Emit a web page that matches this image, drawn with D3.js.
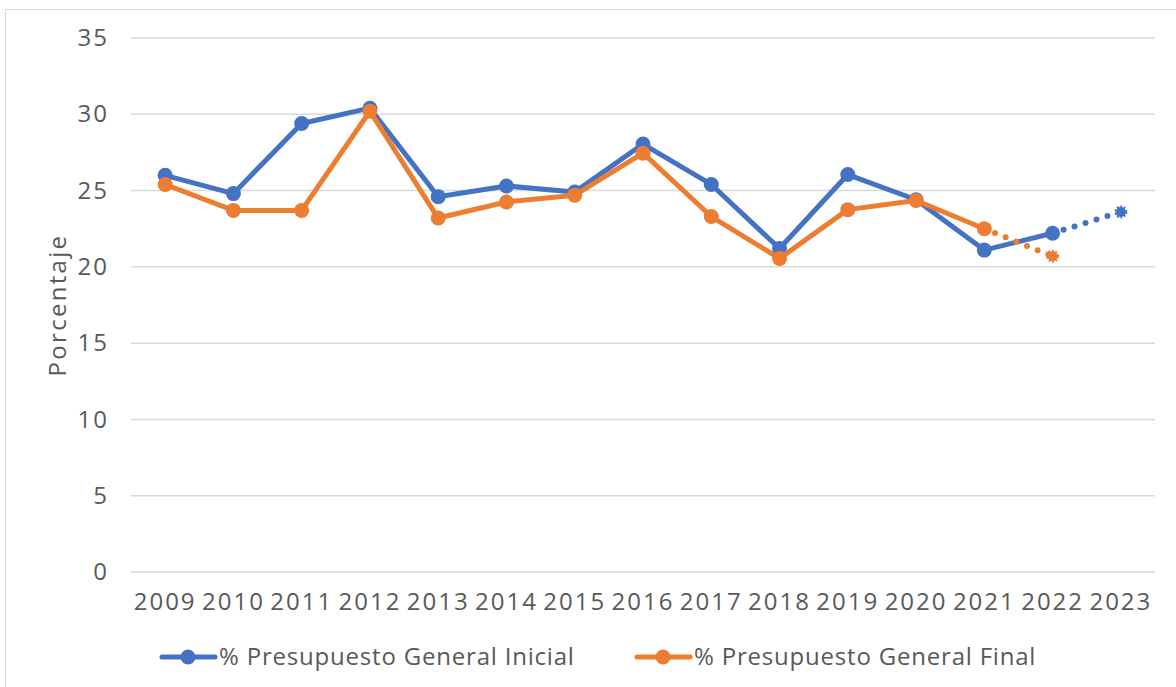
<!DOCTYPE html>
<html>
<head>
<meta charset="utf-8">
<script src="https://cdn.jsdelivr.net/npm/d3@7"></script>
<style>
body { margin: 0; background: #fff; }
text { font-family: "Open Sans", "Noto Sans", sans-serif; fill: #595959; }
</style>
</head>
<body>
<div id="chart"></div>
<script>
var years = ["2009","2010","2011","2012","2013","2014","2015","2016","2017","2018","2019","2020","2021","2022","2023"];
var inicial = [26.0, 24.8, 29.4, 30.4, 24.6, 25.3, 24.9, 28.05, 25.4, 21.2, 26.05, 24.4, 21.1, 22.2, 23.6];
var final = [25.4, 23.7, 23.7, 30.2, 23.2, 24.25, 24.7, 27.45, 23.3, 20.55, 23.75, 24.35, 22.5, 20.7, null];
var yTicks = [0, 5, 10, 15, 20, 25, 30, 35];
var seriesNames = ["% Presupuesto General Inicial", "% Presupuesto General Final"];
var colors = ["#4472c4", "#ed7d31"];
// index where series turns into a dotted projection
var dottedFrom = [13, 12];

var W = 1176, H = 687;
var margin = {top: 38, left: 131, right: 21, bottom: 115};
var width = W - margin.left - margin.right,
    height = H - margin.top - margin.bottom;

var svg = d3.select("#chart").append("svg")
  .attr("width", W)
  .attr("height", H);

// outer border
svg.append("rect")
  .attr("x", 5.5).attr("y", 9.5)
  .attr("width", W + 20).attr("height", H + 20)
  .attr("fill", "none")
  .attr("stroke", "#d9d9d9");

var g = svg.append("g")
  .attr("transform", "translate(" + margin.left + "," + margin.top + ")");

var x = d3.scaleBand().domain(years).range([0, width]);
var y = d3.scaleLinear().domain([0, 35]).range([height, 0]);
var cx = function(d, i) { return x(years[i]) + x.bandwidth() / 2; };

// grid
g.selectAll(".grid")
  .data(yTicks)
  .enter().append("line")
  .attr("x1", 0).attr("x2", width)
  .attr("y1", function(d) { return y(d); })
  .attr("y2", function(d) { return y(d); })
  .attr("stroke", "#d9d9d9")
  .attr("stroke-width", 1.5);

// y axis labels
var yAxis = d3.axisLeft(y).tickValues(yTicks).tickSize(0).tickPadding(22);
g.append("g").call(yAxis)
  .call(function(a) { a.select(".domain").remove(); })
  .selectAll("text")
  .style("font-size", "24px")
  .style("letter-spacing", "2px")
  .attr("fill", "#595959");

// x axis labels
var xAxis = d3.axisBottom(x).tickSize(0).tickPadding(21);
g.append("g")
  .attr("transform", "translate(0," + height + ")")
  .call(xAxis)
  .call(function(a) { a.select(".domain").remove(); })
  .selectAll("text")
  .style("font-size", "24px")
  .style("letter-spacing", "2px")
  .attr("fill", "#595959");

svg.append("text")
  .attr("transform", "translate(66," + (margin.top + height / 2) + ") rotate(-90)")
  .attr("text-anchor", "middle")
  .style("font-size", "24px")
  .style("letter-spacing", "2.3px")
  .text("Porcentaje");

[inicial, final].forEach(function(vals, s) {
  var pts = vals.map(function(v, i) { return v == null ? null : [cx(v, i), y(v)]; });
  var cut = dottedFrom[s];
  var solid = pts.slice(0, cut + 1);
  var dotted = pts.slice(cut).filter(function(p) { return p; });
  var line = d3.line();

  g.append("path")
    .attr("d", line(solid))
    .attr("fill", "none")
    .attr("stroke", colors[s])
    .attr("stroke-width", 5)
    .attr("stroke-linejoin", "round");

  g.append("path")
    .attr("d", line(dotted))
    .attr("fill", "none")
    .attr("stroke", colors[s])
    .attr("stroke-width", 6)
    .attr("stroke-linecap", "round")
    .attr("stroke-dasharray", "0,11.5");

  g.selectAll(".m" + s)
    .data(solid)
    .enter().append("circle")
    .attr("cx", function(p) { return p[0]; })
    .attr("cy", function(p) { return p[1]; })
    .attr("r", 7.5)
    .attr("fill", colors[s]);

  var last = dotted[dotted.length - 1];
  g.append("circle")
    .attr("cx", last[0]).attr("cy", last[1])
    .attr("r", 5)
    .attr("fill", colors[s])
    .attr("stroke", colors[s])
    .attr("stroke-width", 3)
    .attr("stroke-dasharray", "1.6,1.6");
});

// legend
var legX = [160, 635];
seriesNames.forEach(function(name, s) {
  var lg = svg.append("g").attr("transform", "translate(" + legX[s] + ",657)");
  lg.append("line")
    .attr("x1", 2).attr("x2", 55)
    .attr("stroke", colors[s])
    .attr("stroke-width", 5)
    .attr("stroke-linecap", "round");
  lg.append("circle").attr("cx", 28).attr("r", 7.5).attr("fill", colors[s]);
  lg.append("text")
    .attr("x", 59).attr("dy", "0.35em")
    .style("font-size", "24px")
    .style("letter-spacing", "0.8px")
    .text(name);
});
</script>
</body>
</html>
